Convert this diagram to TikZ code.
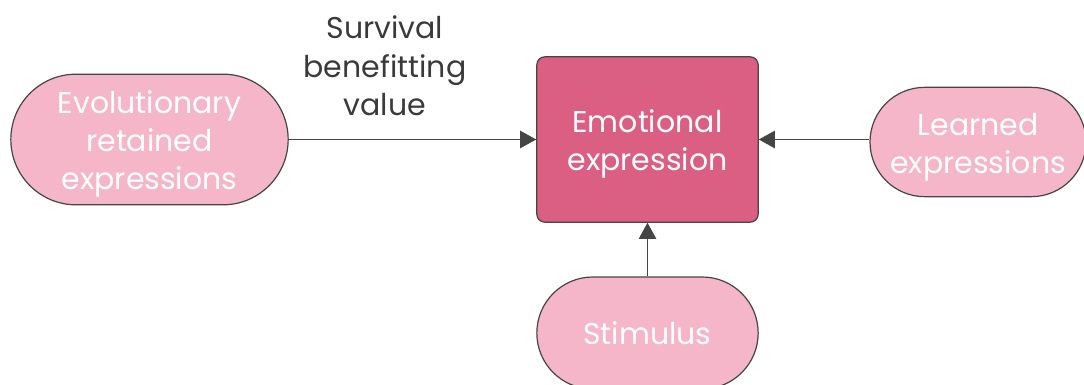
\documentclass[tikz,border=0pt]{standalone}
\usepackage{fontspec}
\setmainfont{Poppins}
\usetikzlibrary{arrows.meta}
\definecolor{pillpink}{HTML}{F4B6C8}
\definecolor{boxrose}{HTML}{DB5F83}
\definecolor{edgegray}{HTML}{454545}
\definecolor{labelgray}{HTML}{3A3A3A}
% extra head room so multi-line text sits a little lower in its shape
\newcommand\headroom{\rule{0pt}{24pt}}
\begin{document}
\begin{tikzpicture}[x=0.75pt,y=-0.75pt,
  pill/.style={draw=edgegray,line width=0.9pt,fill=pillpink,
    text=white,align=center,font=\fontsize{22.5}{28.5}\selectfont},
  core/.style={draw=edgegray,line width=0.9pt,fill=boxrose,rounded corners=6pt,
    text=white,align=center,font=\fontsize{22.5}{28.5}\selectfont},
  link/.style={draw=edgegray,line width=0.9pt,-{Triangle[length=12pt,width=13pt]}},
  caption/.style={text=labelgray,align=center,font=\fontsize{22.5}{29}\selectfont}]
\useasboundingbox (0,0) rectangle (1084,385);
\begin{scope}
\clip (0,0) rectangle (1084,385);
% central box
\node[core,minimum width=166pt,minimum height=124pt] (emo) at (647.5,139.5) {\headroom Emotional\\expression};
% sources
\node[pill,minimum width=208pt,minimum height=98pt,rounded corners=49pt] (evo) at (149.5,139.5) {\headroom Evolutionary\\retained\\expressions};
\node[pill,minimum width=162pt,minimum height=82pt,rounded corners=41pt] (learn) at (978,142) {\headroom Learned\\expressions};
\node[pill,minimum width=166pt,minimum height=84pt,rounded corners=42pt] (stim) at (647.5,333) {Stimulus};
\end{scope}
% connectors
\draw[link] (evo.east) -- (emo.west);
\draw[link] (learn.west |- emo.east) -- (emo.east);
\draw[link] (stim.north) -- (emo.south);
% edge label
\node[caption] (surv) at (385,66) {Survival\\benefitting\\value};
\end{tikzpicture}
\end{document}
